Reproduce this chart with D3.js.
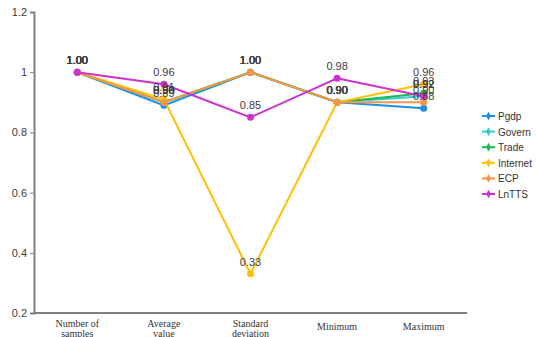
<!DOCTYPE html>
<html><head><meta charset="utf-8">
<script src="https://cdn.jsdelivr.net/npm/d3@7"></script>
<style>body{margin:0;background:#fff}svg{display:block}</style>
</head><body>
<svg id="c" width="536" height="337"></svg>
<script>
const categories = [["Number of","samples"],["Average","value"],["Standard","deviation"],["Minimum"],["Maximum"]];
const seriesNames = ["Pgdp","Govern","Trade","Internet","ECP","LnTTS"];
const colors = ["#1F8FE6","#33CCCC","#1DB954","#FFC000","#F79646","#CC33CC"];
const Pgdp =     [1.00, 0.89, 1.00, 0.90, 0.88];
const Govern =   [1.00, 0.90, 1.00, 0.90, 0.92];
const Trade =    [1.00, 0.90, 1.00, 0.90, 0.93];
const Internet = [1.00, 0.91, 0.33, 0.90, 0.96];
const ECP =      [1.00, 0.90, 1.00, 0.90, 0.90];
const LnTTS =    [1.00, 0.96, 0.85, 0.98, 0.92];
const yTicks = [0.2,0.4,0.6,0.8,1,1.2];
const values = [Pgdp,Govern,Trade,Internet,ECP,LnTTS];

const svg = d3.select("#c");
const x = d3.scaleBand().domain(d3.range(categories.length)).range([34,467]);
const y = d3.scaleLinear().domain([0.2,1.2]).range([313,12]);
const sans = "'Liberation Sans', Arial, sans-serif";

// y axis
const ya = svg.append("g").attr("transform","translate(34,0)")
  .call(d3.axisLeft(y).tickValues(yTicks).tickSize(4).tickFormat(d=>String(d)));
ya.select(".domain").attr("stroke","#808080").attr("stroke-width",2);
ya.selectAll(".tick line").attr("stroke","#808080");
ya.selectAll(".tick text").attr("font-family",sans).attr("font-size",11).attr("fill","#404040").attr("x",-7);

// x axis
svg.append("line").attr("x1",33).attr("x2",467).attr("y1",y(0.2)).attr("y2",y(0.2)).attr("stroke","#808080").attr("stroke-width",2);
categories.forEach((lines,i)=>{
  const cx = x(i)+x.bandwidth()/2;
  const t = svg.append("text").attr("text-anchor","middle").attr("font-family","'Liberation Serif', serif").attr("font-size",10).attr("fill","#333");
  const y0 = lines.length>1 ? 327 : 330;
  lines.forEach((l,k)=>t.append("tspan").attr("x",cx).attr("y",y0+k*10).text(l));
});

const line = d3.line().x((d,i)=>x(i)+x.bandwidth()/2).y(d=>y(d));
values.forEach((vals,s)=>{
  svg.append("path").attr("d",line(vals)).attr("fill","none").attr("stroke",colors[s]).attr("stroke-width",2);
  svg.selectAll(null).data(vals).enter().append("circle")
    .attr("cx",(d,i)=>x(i)+x.bandwidth()/2).attr("cy",d=>y(d)).attr("r",3.5).attr("fill",colors[s]);
});
values.forEach((vals,s)=>{
  svg.selectAll(null).data(vals).enter().append("text")
    .attr("x",(d,i)=>x(i)+x.bandwidth()/2).attr("y",d=>y(d)-8)
    .attr("text-anchor","middle").attr("font-family",sans).attr("font-size",11).attr("fill","#404040")
    .text(d=>d.toFixed(2));
});

// legend
const lg = svg.append("g");
seriesNames.forEach((n,i)=>{
  const ly = 116 + i*15.6;
  lg.append("line").attr("x1",482).attr("x2",495).attr("y1",ly).attr("y2",ly).attr("stroke",colors[i]).attr("stroke-width",2);
  lg.append("path").attr("d",d3.symbol(d3.symbolDiamond,22)()).attr("transform",`translate(488.5,${ly})`).attr("fill",colors[i]);
  lg.append("text").attr("x",498).attr("y",ly+4).attr("font-family",sans).attr("font-size",10).attr("fill","#333").text(n);
});
</script>
</body></html>
